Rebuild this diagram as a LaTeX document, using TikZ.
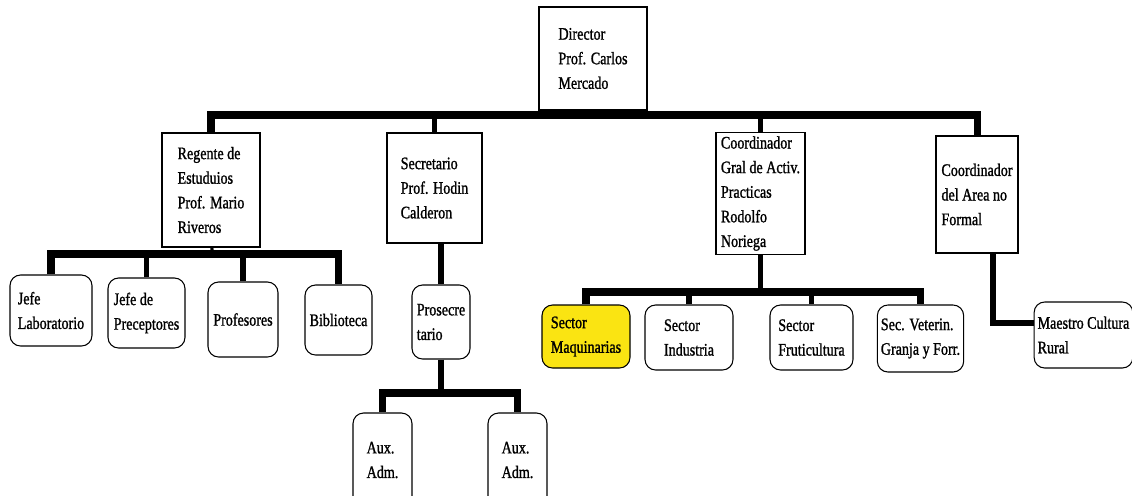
\documentclass[tikz,border=0pt]{standalone}
\usepackage{fontspec}
\setmainfont[FakeStretch=0.8,FakeBold=1.2]{Liberation Serif}
\usetikzlibrary{positioning,calc}
\definecolor{sectoryellow}{RGB}{250,228,18}

\begin{document}
\begin{tikzpicture}[x=0.02cm, y=-0.02cm, thick,
  box/.style = {draw, line width=0.6pt, align=left, inner sep=2pt, font=\fontsize{10}{14}\selectfont},
  rbox/.style = {box, rounded corners=6pt},
  bus/.style = {line width=4pt, line join=miter},
  drop/.style = {line width=3pt},
  link/.style = {line width=1.8pt}]
  \useasboundingbox (0,0) rectangle (1132,495);
  \clip (0,0) rectangle (1132,495);

  % top level
  \node[box, minimum width=2.16cm, minimum height=2.06cm] (director) at (593,58.5) {Director\\Prof. Carlos\\Mercado};

  % second level
  \node[box, minimum width=1.96cm, minimum height=2.28cm] (regente) at (211,190) {Regente de\\Estuduios\\Prof. Mario\\Riveros};
  \node[box, minimum width=1.9cm, minimum height=2.2cm] (secretario) at (434.5,188) {Secretario\\Prof. Hodin\\Calderon};
  \node[box, minimum width=1.78cm, minimum height=2.38cm] (coordgral) at (760.5,193.5) {Coordinador\\Gral de Activ.\\Practicas\\Rodolfo\\Noriega};
  \node[box, minimum width=1.64cm, minimum height=2.34cm] (coordarea) at (977,194.5) {Coordinador\\del Area no\\Formal};

  % under regente
  \node[rbox, minimum width=1.64cm, minimum height=1.42cm] (jefelab) at (51,310.5) {Jefe\\Laboratorio};
  \node[rbox, minimum width=1.54cm, minimum height=1.4cm] (preceptores) at (146.5,313) {Jefe de\\Preceptores};
  \node[rbox, minimum width=1.4cm, minimum height=1.5cm] (profesores) at (243,319.5) {Profesores};
  \node[rbox, minimum width=1.34cm, minimum height=1.4cm] (biblioteca) at (338.5,320) {Biblioteca};

  % under secretario
  \node[rbox, minimum width=1.16cm, minimum height=1.48cm] (prosecretario) at (441,322) {Prosecre\\tario};
  \node[rbox, minimum width=1.18cm, minimum height=1.88cm] (auxa) at (382.5,460) {Aux.\\Adm.};
  \node[rbox, minimum width=1.18cm, minimum height=1.88cm] (auxb) at (517.5,460) {Aux.\\Adm.};

  % under coordinador gral
  \node[rbox, fill=sectoryellow, minimum width=1.76cm, minimum height=1.26cm] (maquinarias) at (586,336.5) {Sector\\Maquinarias};
  \node[rbox, minimum width=1.76cm, minimum height=1.3cm] (industria) at (689,337.5) {Sector\\Industria};
  \node[rbox, minimum width=1.66cm, minimum height=1.3cm] (fruticultura) at (811.5,337.5) {Sector\\Fruticultura};
  \node[rbox, minimum width=1.7cm, minimum height=1.34cm] (veterin) at (920.5,338.5) {Sec. Veterin.\\Granja y Forr.};

  % under coordinador area
  \node[rbox, minimum width=1.86cm, minimum height=1.32cm] (maestro) at (1083.5,335) {Maestro Cultura\\Rural};

  % bus lines
  \coordinate (topbus) at (593,115);
  \coordinate (regbus) at (212,254);
  \coordinate (probus) at (441,393);
  \coordinate (gralbus) at (760,292);
  \coordinate (areaturn) at (993,323);

  \draw[link] (director) -- (topbus);
  \draw[bus] (regente.north) |- (topbus) -| (coordarea.north);
  \draw[drop] (secretario.north) -- (secretario.north |- topbus);
  \draw[drop] (coordgral.north) -- (coordgral.north |- topbus);

  \draw[link] (regente) -- (regbus);
  \draw[bus] (jefelab.north) |- (regbus) -| (biblioteca.north);
  \draw[drop] (preceptores.north) -- (preceptores.north |- regbus);
  \draw[drop] (profesores.north) -- (profesores.north |- regbus);

  \draw[drop] (prosecretario.north |- secretario.south) -- (prosecretario.north);
  \draw[drop] (prosecretario.south) -- (probus);
  \draw[bus] (auxa.north) |- (probus) -| (auxb.north);

  \draw[drop] (coordgral.south) -- (coordgral.south |- gralbus);
  \draw[bus] (maquinarias.north) |- (gralbus) -| (veterin.north);
  \draw[drop] (industria.north) -- (industria.north |- gralbus);
  \draw[drop] (fruticultura.north) -- (fruticultura.north |- gralbus);

  \draw[drop] (areaturn |- coordarea.south) -- (areaturn) -- (areaturn -| maestro.west);
\end{tikzpicture}
\end{document}
